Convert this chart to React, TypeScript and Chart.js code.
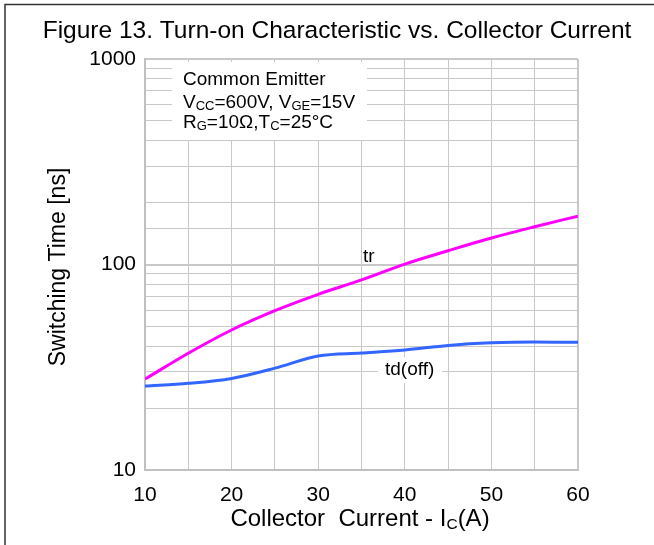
import React, { useEffect, useRef } from 'react';
import { Chart, registerables } from 'chart.js';
Chart.register(...registerables);

const currents = [10, 15, 20, 25, 30, 35, 40, 45, 50, 55, 60];
const trValues = [27.7, 37.0, 48.0, 59.6, 71.6, 84.1, 100.5, 116.7, 134.6, 152.7, 172];
const tdOffValues = [25.6, 26.4, 27.9, 31.3, 35.9, 37.1, 38.4, 40.4, 41.6, 42.0, 41.8];
const yTickLabels = [10, 100, 1000];
const xTickLabels = [10, 20, 30, 40, 50, 60];

const FONT = '"Liberation Sans", Arial, sans-serif';

type Seg = { t: string; sub?: boolean };

function segWidth(ctx: CanvasRenderingContext2D, segs: Seg[], size: number, subSize: number) {
  let w = 0;
  for (const s of segs) {
    ctx.font = `${s.sub ? subSize : size}px ${FONT}`;
    w += ctx.measureText(s.t).width;
  }
  return w;
}

function drawSegs(ctx: CanvasRenderingContext2D, segs: Seg[], x: number, y: number, size: number, subSize: number) {
  let cx = x;
  ctx.textBaseline = 'alphabetic';
  ctx.textAlign = 'left';
  for (const s of segs) {
    ctx.font = `${s.sub ? subSize : size}px ${FONT}`;
    ctx.fillText(s.t, cx, s.sub ? y + size * 0.12 : y);
    cx += ctx.measureText(s.t).width;
  }
}

const decorPlugin = {
  id: 'decor',
  beforeDraw(chart: any) {
    const ctx = chart.ctx as CanvasRenderingContext2D;
    ctx.save();
    ctx.fillStyle = '#ffffff';
    ctx.fillRect(0, 0, chart.width, chart.height);
    ctx.strokeStyle = '#333333';
    ctx.lineWidth = 1.5;
    ctx.strokeRect(5, 4.5, 700, 600);
    ctx.fillStyle = '#000';
    ctx.font = `24.5px ${FONT}`;
    ctx.textAlign = 'center';
    ctx.textBaseline = 'middle';
    ctx.fillText('Figure 13. Turn-on Characteristic vs. Collector Current', 337, 31);
    // y title
    ctx.save();
    ctx.translate(59, 267);
    ctx.rotate(-Math.PI / 2);
    ctx.font = `23px ${FONT}`;
    ctx.textAlign = 'center';
    ctx.textBaseline = 'middle';
    ctx.fillText('Switching Time [ns]', 0, 0);
    ctx.restore();
    // x title
    const xs: Seg[] = [{ t: 'Collector  Current - I' }, { t: 'C', sub: true }, { t: '(A)' }];
    const w = segWidth(ctx, xs, 24, 15.5);
    ctx.fillStyle = '#000';
    drawSegs(ctx, xs, 360 - w / 2, 526, 24, 15.5);
    ctx.restore();
  },
  beforeDatasetsDraw(chart: any) {
    const ctx = chart.ctx as CanvasRenderingContext2D;
    ctx.save();
    ctx.fillStyle = '#ffffff';
    ctx.fillRect(172, 62, 195, 78);
    ctx.fillRect(378, 357, 64, 26);
    ctx.fillStyle = '#000';
    drawSegs(ctx, [{ t: 'Common Emitter' }], 183, 85, 19, 13);
    drawSegs(ctx, [{ t: 'V' }, { t: 'CC', sub: true }, { t: '=600V, V' }, { t: 'GE', sub: true }, { t: '=15V' }], 183, 108, 19, 13);
    drawSegs(ctx, [{ t: 'R' }, { t: 'G', sub: true }, { t: '=10\u03A9,T' }, { t: 'C', sub: true }, { t: '=25\u00B0C' }], 183, 128, 19, 13);
    ctx.fillStyle = '#000';
    ctx.font = `19px ${FONT}`;
    ctx.textAlign = 'left';
    ctx.textBaseline = 'middle';
    ctx.fillText('tr', 363, 257);
    ctx.fillText('td(off)', 385, 370);
    ctx.restore();
  },
};

export default function App() {
  const ref = useRef<HTMLCanvasElement | null>(null);
  useEffect(() => {
    if (!ref.current) return;
    const gridColor = '#c8c8c8';
    const chart = new Chart(ref.current, {
      type: 'line',
      data: {
        datasets: [
          {
            label: 'tr',
            data: currents.map((x, i) => ({ x, y: trValues[i] })),
            borderColor: '#ff00ff',
            borderWidth: 3,
            pointRadius: 0,
            cubicInterpolationMode: 'monotone',
            fill: false,
          },
          {
            label: 'td(off)',
            data: currents.map((x, i) => ({ x, y: tdOffValues[i] })),
            borderColor: '#3366ff',
            borderWidth: 3,
            pointRadius: 0,
            cubicInterpolationMode: 'monotone',
            fill: false,
          },
        ],
      },
      options: {
        animation: false,
        responsive: false,
        events: [],
        layout: { padding: { top: 59, right: 76, bottom: 0, left: 0 } },
        plugins: { legend: { display: false }, tooltip: { enabled: false }, title: { display: false } },
        scales: {
          x: {
            type: 'linear',
            min: 10,
            max: 60,
            afterFit: (s: any) => { s.height = 75; },
            border: { display: true, color: '#c0c0c0', width: 2 },
            grid: {
              color: gridColor,
              drawTicks: false,
              lineWidth: (c: any) => (c.tick && c.tick.value === 60 ? 2 : 1),
            },
            ticks: {
              stepSize: 5,
              autoSkip: false,
              maxRotation: 0,
              padding: 13,
              color: '#000',
              font: { family: FONT, size: 21 },
              callback: (v: any) => (xTickLabels.includes(Number(v)) ? String(v) : ''),
            },
          },
          y: {
            type: 'logarithmic',
            min: 10,
            max: 1000,
            afterFit: (s: any) => { s.width = 145; },
            border: { display: true, color: '#c0c0c0', width: 2 },
            grid: {
              color: gridColor,
              drawTicks: false,
              lineWidth: (c: any) => (c.tick && yTickLabels.includes(Number(c.tick.value)) ? 2 : 1),
            },
            ticks: {
              autoSkip: false,
              padding: 9,
              color: '#000',
              font: { family: FONT, size: 21 },
              callback: (v: any) => (yTickLabels.includes(Number(v)) ? String(v) : ''),
            },
          },
        },
      },
      plugins: [decorPlugin],
    } as any);
    return () => chart.destroy();
  }, []);
  return (
    <div style={{ position: 'fixed', left: 0, top: 0, width: 654, height: 545 }}>
      <canvas ref={ref} width={654} height={545} style={{ display: 'block', width: 654, height: 545 }} />
    </div>
  );
}
